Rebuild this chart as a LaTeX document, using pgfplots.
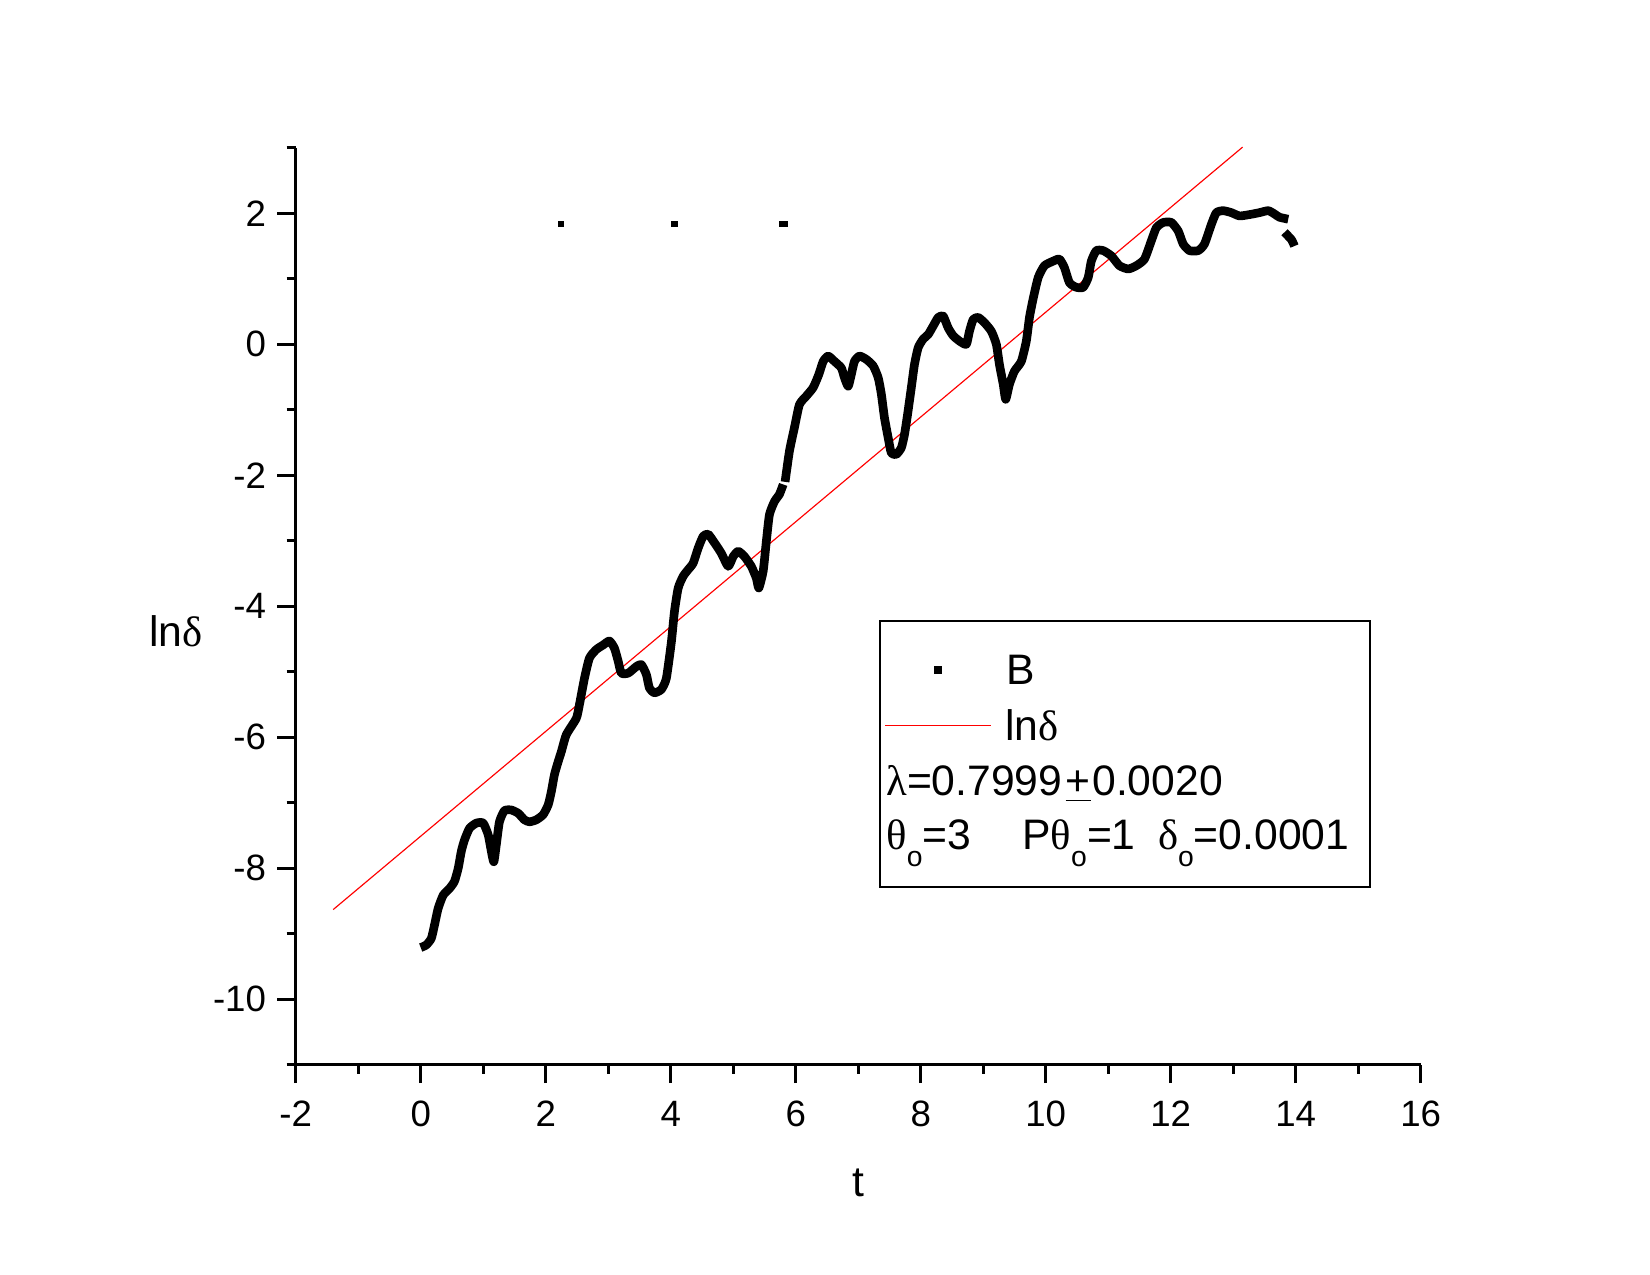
\documentclass[border=0pt]{standalone}
\usepackage{fontspec}
\setmainfont{Liberation Sans}
\newfontfamily\grk{Liberation Serif}
\usepackage{pgfplots}
\pgfplotsset{compat=1.18}
\newcommand{\sub}{\raisebox{-5pt}{\fontsize{8.5}{9}\selectfont o}}
\newcommand{\lf}{\fontsize{12.8}{15}\selectfont}

\pgfplotstableread{
t y
0.00 -9.21
0.09 -9.17
0.17 -9.07
0.22 -8.87
0.28 -8.61
0.36 -8.41
0.46 -8.31
0.54 -8.20
0.60 -8.00
0.65 -7.74
0.70 -7.57
0.78 -7.39
0.89 -7.31
1.00 -7.31
1.08 -7.49
1.13 -7.74
1.17 -7.90
1.21 -7.64
1.26 -7.29
1.34 -7.12
1.45 -7.11
1.56 -7.16
1.66 -7.26
1.74 -7.29
1.85 -7.26
1.96 -7.18
2.04 -7.03
2.09 -6.83
2.14 -6.57
2.20 -6.37
2.25 -6.22
2.33 -5.96
2.49 -5.71
2.54 -5.50
2.62 -5.10
2.70 -4.79
2.81 -4.66
2.92 -4.59
3.02 -4.53
3.10 -4.64
3.16 -4.84
3.21 -5.02
3.32 -5.02
3.45 -4.92
3.53 -4.89
3.61 -5.04
3.66 -5.25
3.74 -5.32
3.85 -5.27
3.93 -5.10
4.01 -4.55
4.06 -4.08
4.12 -3.72
4.20 -3.54
4.28 -3.44
4.36 -3.34
4.44 -3.11
4.52 -2.93
4.60 -2.90
4.70 -3.03
4.81 -3.19
4.92 -3.39
5.00 -3.24
5.08 -3.16
5.18 -3.24
5.29 -3.39
5.37 -3.57
5.41 -3.72
5.48 -3.46
5.53 -3.01
5.58 -2.60
5.66 -2.40
5.74 -2.29
5.80 -2.14
}\segA

\pgfplotstableread{
t y
5.83 -2.10
5.90 -1.63
5.98 -1.27
6.06 -0.92
6.17 -0.79
6.28 -0.66
6.37 -0.46
6.44 -0.26
6.52 -0.18
6.62 -0.26
6.73 -0.36
6.78 -0.51
6.84 -0.64
6.89 -0.46
6.94 -0.26
7.02 -0.18
7.13 -0.23
7.24 -0.33
7.32 -0.51
7.37 -0.76
7.42 -1.12
7.48 -1.43
7.53 -1.66
7.61 -1.68
7.69 -1.58
7.74 -1.38
7.79 -1.07
7.85 -0.66
7.90 -0.31
7.96 -0.05
8.04 0.08
8.12 0.15
8.20 0.28
8.28 0.41
8.36 0.43
8.44 0.25
8.52 0.13
8.62 0.05
8.73 0.00
8.78 0.20
8.84 0.38
8.92 0.41
9.02 0.33
9.13 0.20
9.21 0.00
9.26 -0.31
9.32 -0.61
9.36 -0.84
9.42 -0.61
9.50 -0.41
9.61 -0.26
9.69 0.05
9.74 0.41
9.80 0.70
9.88 1.02
9.98 1.20
10.12 1.27
10.22 1.30
10.30 1.17
10.38 0.94
10.49 0.87
10.60 0.87
10.68 1.02
10.73 1.27
10.81 1.43
10.92 1.43
11.05 1.35
11.18 1.20
11.32 1.15
11.45 1.20
11.58 1.30
11.69 1.58
11.77 1.78
11.88 1.86
12.01 1.86
12.12 1.73
12.20 1.53
12.30 1.43
12.44 1.43
12.54 1.53
12.65 1.83
12.73 2.01
12.84 2.04
12.97 2.01
13.10 1.96
13.26 1.98
13.42 2.01
13.56 2.04
13.66 1.99
13.74 1.94
13.88 1.91
}\segB

\pgfplotstableread{
t y
13.82 1.71
13.93 1.60
13.98 1.50
}\segC

\begin{document}
\begin{tikzpicture}
\path[use as bounding box] (0,0) rectangle (495pt,382.5pt);
\begin{axis}[
  at={(88.71pt,63.06pt)}, anchor=south west,
  scale only axis, width=337.5pt, height=275.1pt,
  xmin=-2, xmax=16, ymin=-11, ymax=3,
  axis x line*=bottom, axis y line*=left,
  axis line style={line width=1pt, black},
  tick align=outside,
  major tick length=5.5pt, minor tick length=2.7pt,
  every tick/.style={line width=0.85pt, black},
  xtick={-2,0,...,16}, xticklabels={-2,0,2,4,6,8,10,12,14,16},
  minor xtick={-1,1,...,15},
  ytick={-10,-8,...,2}, yticklabels={-10,-8,-6,-4,-2,0,2},
  minor ytick={-11,-9,...,3},
  tick label style={font=\fontsize{11}{13}\selectfont, inner sep=0pt},
  xticklabel shift=5.1pt,
  yticklabel shift=3.2pt,
  clip=false,
  xlabel={t}, ylabel={ln{\grk δ}},
  every axis x label/.style={at={(axis description cs:0.5,-0.1432)}, anchor=base, font=\lf},
  every axis y label/.style={at={(axis description cs:-0.1064,0.4567)}, anchor=base, font=\lf},
]
\addplot[red, line width=0.35pt] coordinates {(-1.4,-8.63) (13.15,3.01)};
\addplot[black, line width=2.6pt, line join=round, smooth, tension=0.35] table[x=t, y=y] {\segA};
\addplot[black, line width=2.6pt, line join=round, smooth, tension=0.35] table[x=t, y=y] {\segB};
\addplot[black, line width=2.6pt, line join=round, smooth, tension=0.35] table[x=t, y=y] {\segC};
\addplot[only marks, mark=square*, mark size=0.75pt, black] coordinates {(2.24,1.84) (4.06,1.84) (5.79,1.84) (5.83,1.84)};
\end{axis}
% legend
\draw[line width=0.5pt] (264pt,116.49pt) rectangle (411pt,196.29pt);
\node[anchor=center, inner sep=0pt] at (281.49pt,181.5pt) {\rule{2.4pt}{2.4pt}};
\node[anchor=base west, inner sep=0pt, font=\lf] at (301.8pt,177pt) {B};
\draw[red, line width=0.35pt] (265.5pt,164.91pt) -- (297.2pt,164.91pt);
\node[anchor=base west, inner sep=0pt, font=\lf] at (301.3pt,160.29pt) {ln{\grk δ}};
\node[anchor=base west, inner sep=0pt, font=\lf] at (265.7pt,143.7pt) {{\grk λ}=0.7999};
\node[anchor=base west, inner sep=0pt, font=\lf] at (319.5pt,143.7pt) {\underline{+}};
\node[anchor=base west, inner sep=0pt, font=\lf] at (327.5pt,143.7pt) {0.0020};
\node[anchor=base west, inner sep=0pt, font=\lf] at (265.7pt,127.5pt) {{\grk θ}\sub=3};
\node[anchor=base west, inner sep=0pt, font=\lf] at (306.5pt,127.5pt) {P{\grk θ}\sub=1};
\node[anchor=base west, inner sep=0pt, font=\lf] at (347.2pt,127.5pt) {{\grk δ}\sub=0.0001};
\end{tikzpicture}
\end{document}
